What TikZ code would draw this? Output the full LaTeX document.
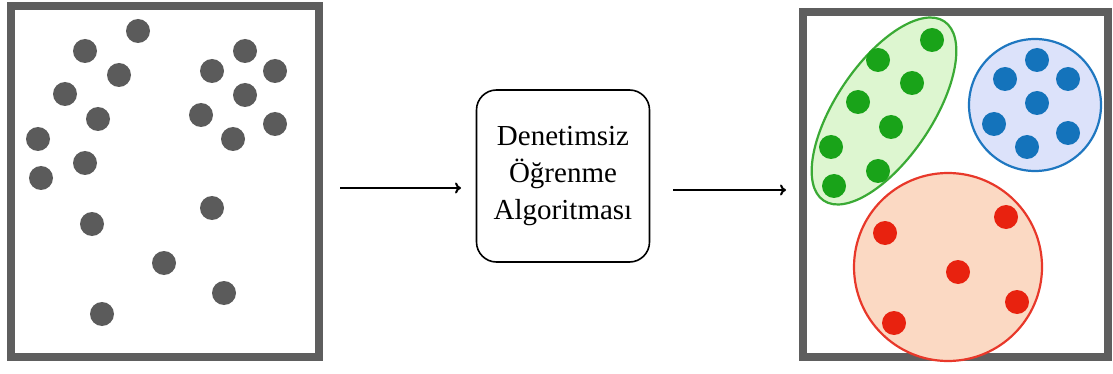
\documentclass[tikz,border=0pt]{standalone}
\usepackage{fontspec}
\setmainfont{Liberation Serif}
\usetikzlibrary{arrows.meta}
\definecolor{framegray}{HTML}{5E5E5E}
\definecolor{dotgray}{HTML}{5B5B5B}
\definecolor{grnline}{HTML}{3AAA35}
\definecolor{grnfill}{HTML}{DDF6D0}
\definecolor{grndot}{HTML}{19A319}
\definecolor{bluline}{HTML}{1F77C0}
\definecolor{blufill}{HTML}{DCE2FA}
\definecolor{bludot}{HTML}{1473BB}
\definecolor{redline}{HTML}{E8382A}
\definecolor{redfill}{HTML}{FBD9C3}
\definecolor{reddot}{HTML}{E8220F}
\tikzset{
  frame/.style={draw=framegray, line width=8pt},
  graydot/.style={fill=dotgray},
  greendot/.style={fill=grndot},
  bluedot/.style={fill=bludot},
  reddot/.style={fill=reddot},
  algobox/.style={draw, line width=1.6pt, rounded corners=20pt, minimum width=173pt,
    minimum height=172pt, align=center, font=\fontsize{29}{37}\selectfont},
  flow/.style={line width=2pt, -{To[length=6pt,width=11pt]}}
}
\begin{document}
\begin{tikzpicture}[x=1pt,y=-1pt]
	\useasboundingbox (0,0) rectangle (1113,374);
	% input data
	\draw[frame] (11,6) rectangle (319,357);
	\fill[graydot] (138,31) circle (12pt);
	\fill[graydot] (85,51) circle (12pt);
	\fill[graydot] (119,75) circle (12pt);
	\fill[graydot] (65,94) circle (12pt);
	\fill[graydot] (98,119) circle (12pt);
	\fill[graydot] (38,139) circle (12pt);
	\fill[graydot] (85,163) circle (12pt);
	\fill[graydot] (41,178) circle (12pt);
	\fill[graydot] (92,224) circle (12pt);
	\fill[graydot] (164,263) circle (12pt);
	\fill[graydot] (102,314) circle (12pt);
	\fill[graydot] (245,51) circle (12pt);
	\fill[graydot] (212,71) circle (12pt);
	\fill[graydot] (275,71) circle (12pt);
	\fill[graydot] (245,95) circle (12pt);
	\fill[graydot] (201,115) circle (12pt);
	\fill[graydot] (275,124) circle (12pt);
	\fill[graydot] (233,139) circle (12pt);
	\fill[graydot] (212,208) circle (12pt);
	\fill[graydot] (224,293) circle (12pt);
	% algorithm
	\node[algobox] (algo) at (563,176) {Denetimsiz\\Öğrenme\\Algoritması};
	\coordinate (in1) at (340,188);
	\coordinate (in2) at (461,188);
	\coordinate (out1) at (673,190);
	\coordinate (out2) at (786,190);
	\draw[flow] (in1) -- (in2);
	\draw[flow] (out1) -- (out2);
	% clusters
	\draw[frame] (803,12) rectangle (1108,357);
	\draw[grnline, fill=grnfill, line width=2.2pt, rotate around={56:(884,111)}]
		(884,111) ellipse [x radius=108pt, y radius=48pt];
	\draw[bluline, fill=blufill, line width=2.2pt] (1035,105) circle (66pt);
	\draw[redline, fill=redfill, line width=2.2pt] (948,267) circle (94pt);
	\fill[greendot] (932,40) circle (12pt);
	\fill[greendot] (878,60) circle (12pt);
	\fill[greendot] (912,83) circle (12pt);
	\fill[greendot] (858,102) circle (12pt);
	\fill[greendot] (891,127) circle (12pt);
	\fill[greendot] (831,147) circle (12pt);
	\fill[greendot] (878,171) circle (12pt);
	\fill[greendot] (834,186) circle (12pt);
	\fill[bluedot] (1037,60) circle (12pt);
	\fill[bluedot] (1005,79) circle (12pt);
	\fill[bluedot] (1068,79) circle (12pt);
	\fill[bluedot] (1037,103) circle (12pt);
	\fill[bluedot] (994,124) circle (12pt);
	\fill[bluedot] (1068,133) circle (12pt);
	\fill[bluedot] (1027,147) circle (12pt);
	\fill[reddot] (885,233) circle (12pt);
	\fill[reddot] (1006,217) circle (12pt);
	\fill[reddot] (958,272) circle (12pt);
	\fill[reddot] (1017,302) circle (12pt);
	\fill[reddot] (894,323) circle (12pt);
\end{tikzpicture}
\end{document}
